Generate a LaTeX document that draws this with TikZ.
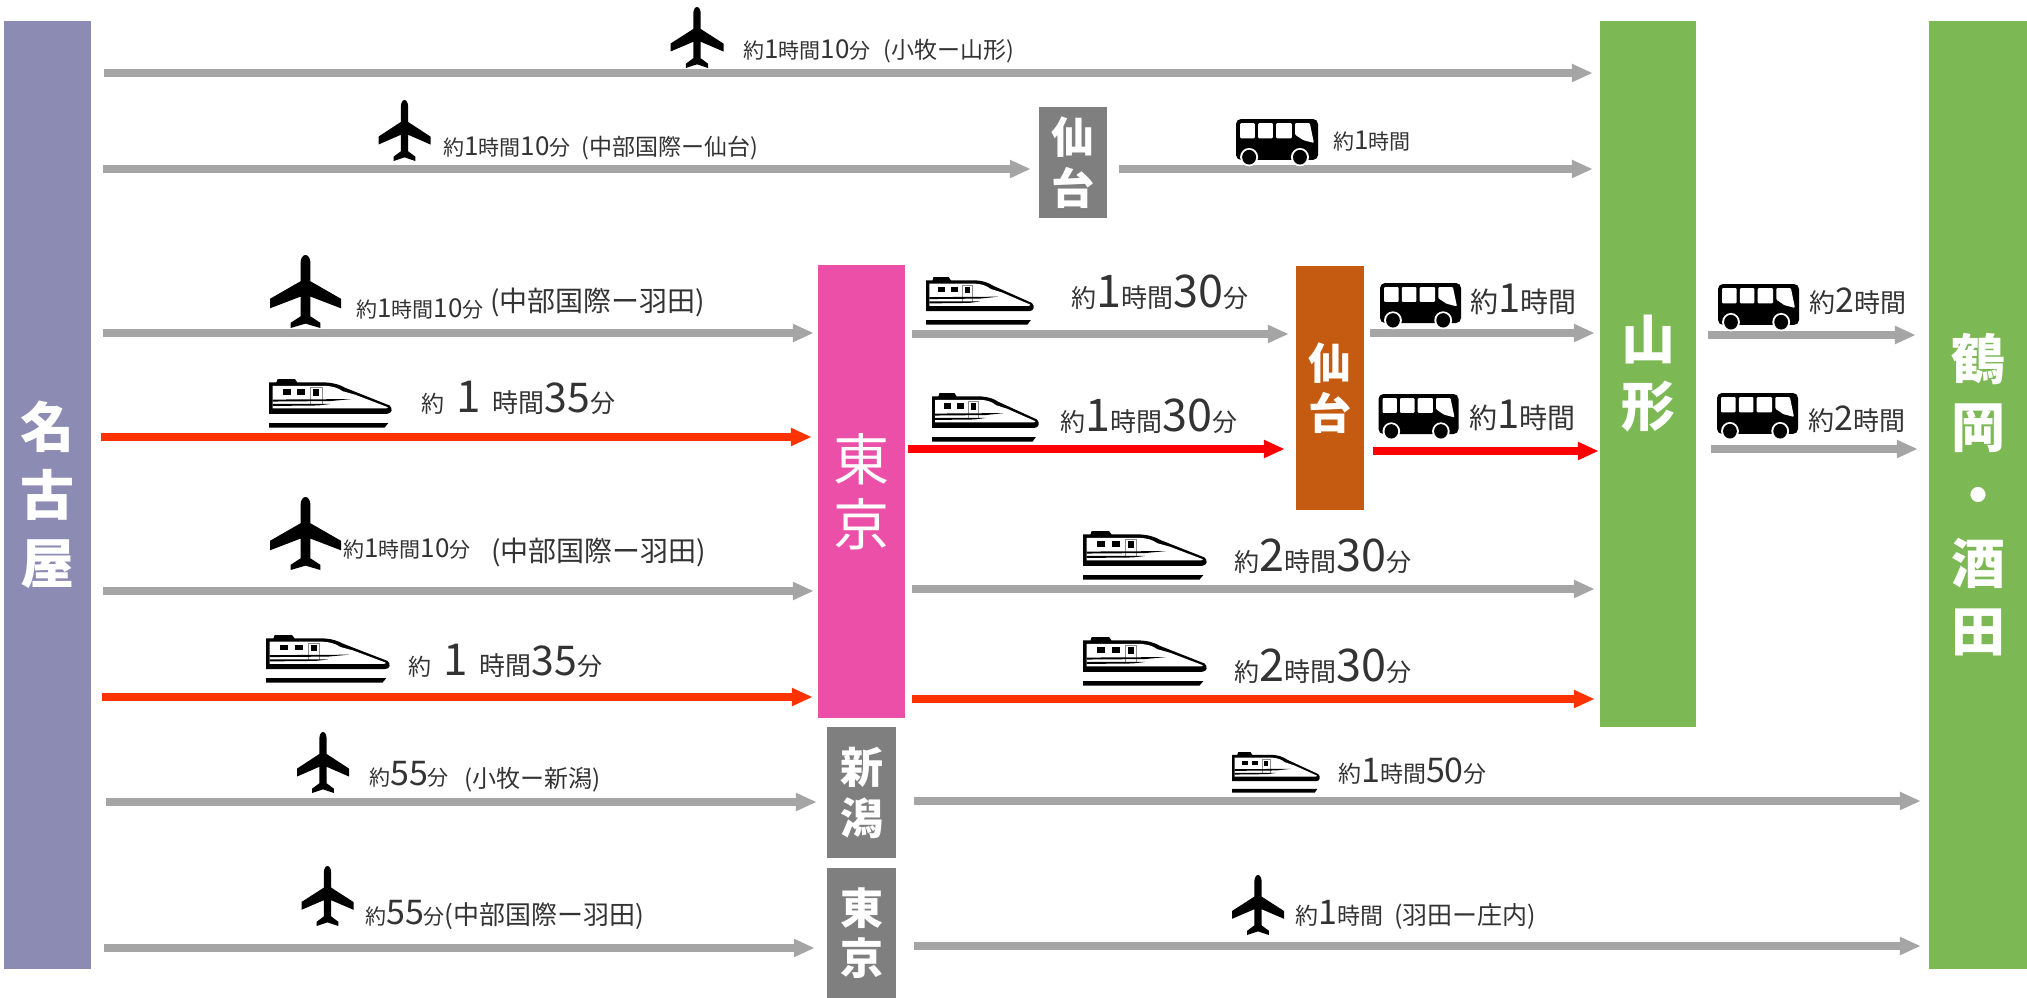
\documentclass[tikz,border=0pt]{standalone}
\usepackage{fontspec}
\usetikzlibrary{arrows.meta}
\setmainfont{Noto Sans CJK JP}

\definecolor{routegray}{HTML}{A5A5A5}
\definecolor{routeorange}{HTML}{FF3300}
\definecolor{routered}{HTML}{FF0000}
\definecolor{nagoyablue}{HTML}{8B8BB3}
\definecolor{tokyopink}{HTML}{EC4FA8}
\definecolor{stopgreen}{HTML}{7CB854}
\definecolor{sendaibrown}{HTML}{C55A11}
\definecolor{stopgray}{HTML}{7F7F7F}

% mixed sizes in one time label
\newcommand{\sz}[2]{{\fontsize{#1}{#1}\selectfont #2}}

\tikzset{
  stopbox/.style={inner sep=0pt,text=white,align=center},
  routeline/.style={line width=8.5pt,-{Triangle[length=21pt,width=17pt]}},
  grayroute/.style={routeline,draw=routegray},
  orangeroute/.style={routeline,draw=routeorange},
  redroute/.style={routeline,draw=routered},
  timelabel/.style={anchor=base west,inner sep=0pt,text=black!80},
  pics/planeicon/.style={code={
    \fill[black] (0,0) .. controls (-4,0) and (-7,5) .. (-7,11) -- (-7,36) -- (-50,60) -- (-50,73)
      -- (-7,57) -- (-7,84) -- (-21,93) -- (-21,100) -- (0,94) -- (21,100) -- (21,93) -- (7,84)
      -- (7,57) -- (50,73) -- (50,60) -- (7,36) -- (7,11) .. controls (7,5) and (4,0) .. (0,0) -- cycle;
  }},
  pics/trainicon/.style={code={
    \fill[black] (6,7) -- (7,0) -- (21,0) -- (23,7) -- (46,7) .. controls (53,8) and (58,12) .. (62,18)
      -- (98,54) .. controls (101,60) and (100,71) .. (96,71) -- (0,71) -- (0,7) -- cycle;
    \fill[white] (3,14) -- (46,14) .. controls (52,15) and (56,18) .. (60,25) -- (70,32) -- (96,57)
      .. controls (97,59) and (97,59) .. (95,60) -- (3,60) -- cycle;
    \fill[black] (11.5,21) rectangle (18,32);
    \fill[black] (23,21) rectangle (29.5,32);
    \draw[black!45,line width=.7pt] (34,53) -- (34,18) -- (43,18) -- (43,53);
    \fill[black] (36,21) rectangle (41,34);
    \fill[black] (3,42) -- (67,41) -- (50,45) -- (3,46) -- cycle;
    \fill[black] (3,51) -- (50,51) -- (40,54) -- (3,55) -- cycle;
    \fill[black] (0,90) -- (97,90) -- (94,99) -- (0,99) -- cycle;
  }},
  pics/busicon/.style={code={
    \fill[black,rounded corners=5pt] (0,0) rectangle (100,89);
    \fill[white,rounded corners=1pt] (5,9) rectangle (23,42);
    \fill[white,rounded corners=1pt] (27,9) rectangle (45,42);
    \fill[white,rounded corners=1pt] (49,9) rectangle (68,42);
    \fill[white,rounded corners=1pt] (72,9) -- (90,9) -- (95,52) -- (82,46) -- (72,34) -- cycle;
    \fill[white] (16,83) circle [x radius=11,y radius=20];
    \fill[white] (78,83) circle [x radius=11,y radius=20];
    \fill[black] (16,83) circle [x radius=8.5,y radius=16];
    \fill[black] (78,83) circle [x radius=8.5,y radius=16];
  }}
}

\begin{document}
\begin{tikzpicture}[x=1pt,y=-1pt]
\useasboundingbox (0,0) rectangle (2027,998);

% stops
\node[stopbox,fill=nagoyablue,minimum width=87pt,minimum height=948pt,font=\bfseries\fontsize{54}{68}\selectfont] (nagoya) at (47.5,495) {名\\古\\屋};
\node[stopbox,fill=tokyopink,minimum width=87pt,minimum height=453pt,font=\fontsize{56}{65}\selectfont] (tokyoA) at (861.5,491.5) {東\\京};
\node[stopbox,fill=stopgray,minimum width=68pt,minimum height=111pt,font=\bfseries\fontsize{43}{51}\selectfont] (sendaiA) at (1073,162.5) {仙\\台};
\node[stopbox,fill=sendaibrown,minimum width=68pt,minimum height=244pt,font=\bfseries\fontsize{43}{50}\selectfont] (sendaiB) at (1330,388) {仙\\台};
\node[stopbox,fill=stopgreen,minimum width=96pt,minimum height=706pt,font=\bfseries\fontsize{54}{67}\selectfont] (yamagata) at (1648,374) {山\\形};
\node[stopbox,fill=stopgreen,minimum width=98pt,minimum height=948pt,font=\bfseries\fontsize{54}{68}\selectfont] (tsuruoka) at (1978,495) {鶴\\岡\\・\\酒\\田};
\node[stopbox,fill=stopgray,minimum width=69pt,minimum height=131pt,font=\bfseries\fontsize{43}{51}\selectfont] (niigata) at (861.5,792.5) {新\\潟};
\node[stopbox,fill=stopgray,minimum width=69pt,minimum height=130pt,font=\bfseries\fontsize{43}{50}\selectfont] (tokyoB) at (861.5,933) {東\\京};

% routes from Nagoya
\draw[grayroute] ([xshift=13]nagoya.east |- 0,73) -- ([xshift=-7]yamagata.west |- 0,73);
\draw[grayroute] ([xshift=12]nagoya.east |- 0,169) -- ([xshift=-8]sendaiA.west |- 0,169);
\draw[grayroute] ([xshift=12]sendaiA.east |- 0,169) -- ([xshift=-7]yamagata.west |- 0,169);
\draw[grayroute] ([xshift=12]nagoya.east |- 0,333) -- ([xshift=-4]tokyoA.west |- 0,333);
\draw[orangeroute] ([xshift=10]nagoya.east |- 0,437) -- ([xshift=-6]tokyoA.west |- 0,437);
\draw[grayroute] ([xshift=12]nagoya.east |- 0,591) -- ([xshift=-4]tokyoA.west |- 0,591);
\draw[orangeroute] ([xshift=11]nagoya.east |- 0,697) -- ([xshift=-5]tokyoA.west |- 0,697);
\draw[grayroute] ([xshift=15]nagoya.east |- 0,802) -- ([xshift=-10]niigata.west |- 0,802);
\draw[grayroute] ([xshift=13]nagoya.east |- 0,948) -- ([xshift=-12]tokyoB.west |- 0,948);

% routes after Tokyo
\draw[grayroute] ([xshift=7]tokyoA.east |- 0,334) -- ([xshift=-7]sendaiB.west |- 0,334);
\draw[redroute] ([xshift=3]tokyoA.east |- 0,449) -- ([xshift=-11]sendaiB.west |- 0,449);
\draw[grayroute] ([xshift=7]tokyoA.east |- 0,589) -- ([xshift=-5]yamagata.west |- 0,589);
\draw[orangeroute] ([xshift=7]tokyoA.east |- 0,699) -- ([xshift=-5]yamagata.west |- 0,699);
\draw[grayroute] ([xshift=18]niigata.east |- 0,801) -- ([xshift=-8]tsuruoka.west |- 0,801);
\draw[grayroute] ([xshift=18]tokyoB.east |- 0,946) -- ([xshift=-8]tsuruoka.west |- 0,946);

% routes after Sendai and Yamagata
\draw[grayroute] ([xshift=6]sendaiB.east |- 0,333) -- ([xshift=-5]yamagata.west |- 0,333);
\draw[redroute] ([xshift=9]sendaiB.east |- 0,451) -- ([xshift=-1]yamagata.west |- 0,451);
\draw[grayroute] ([xshift=12]yamagata.east |- 0,335) -- ([xshift=-13]tsuruoka.west |- 0,335);
\draw[grayroute] ([xshift=15]yamagata.east |- 0,449) -- ([xshift=-11]tsuruoka.west |- 0,449);

% planes
\pic[xscale=.53,yscale=.61] (planeA) at (697,7) {planeicon};
\pic[xscale=.52,yscale=.61] (planeB) at (404.5,100) {planeicon};
\pic[xscale=.71,yscale=.73] (planeC) at (305.5,255) {planeicon};
\pic[xscale=.71,yscale=.73] (planeD) at (305.5,497) {planeicon};
\pic[xscale=.52,yscale=.61] (planeE) at (323,732) {planeicon};
\pic[xscale=.52,yscale=.60] (planeF) at (327.5,866) {planeicon};
\pic[xscale=.52,yscale=.60] (planeG) at (1258,875) {planeicon};

% trains
\pic[xscale=1.23,yscale=.49] (trainA) at (269,379) {trainicon};
\pic[xscale=1.08,yscale=.48] (trainB) at (926,277) {trainicon};
\pic[xscale=1.07,yscale=.49] (trainC) at (932,393) {trainicon};
\pic[xscale=1.24,yscale=.48] (trainD) at (266,635) {trainicon};
\pic[xscale=1.24,yscale=.49] (trainE) at (1083,531) {trainicon};
\pic[xscale=1.24,yscale=.49] (trainF) at (1083,637) {trainicon};
\pic[xscale=.88,yscale=.41] (trainG) at (1232,752) {trainicon};

% buses
\pic[xscale=.82,yscale=.46] (busA) at (1236,119) {busicon};
\pic[xscale=.81,yscale=.45] (busB) at (1380,283) {busicon};
\pic[xscale=.81,yscale=.46] (busC) at (1718,284) {busicon};
\pic[xscale=.80,yscale=.45] (busD) at (1378.5,394) {busicon};
\pic[xscale=.81,yscale=.46] (busE) at (1717,393) {busicon};

% times
\node[timelabel] (timeA) at (743,59) {\sz{21}{約}\sz{26}{1}\sz{21}{時間}\sz{26}{10}\sz{21}{分}\hspace{13pt}\sz{23}{(小牧ー山形)}};
\node[timelabel] (timeB) at (443,155) {\sz{21}{約}\sz{26}{1}\sz{21}{時間}\sz{26}{10}\sz{21}{分}\hspace{11pt}\sz{23}{(中部国際ー仙台)}};
\node[timelabel] (timeC) at (356,317) {\sz{21}{約}\sz{26}{1}\sz{21}{時間}\sz{26}{10}\sz{21}{分}};
\node[timelabel] (timeCa) at (490,311) {\sz{28}{(中部国際ー羽田)}};
\node[timelabel] (timeD) at (421,412) {\sz{23}{約}\hspace{12pt}\sz{44}{1}\hspace{12pt}\sz{26}{時間}\sz{41}{35}\sz{25}{分}};
\node[timelabel] (timeE) at (343,557) {\sz{21}{約}\sz{26}{1}\sz{21}{時間}\sz{26}{10}\sz{21}{分}};
\node[timelabel] (timeEa) at (491,561) {\sz{28}{(中部国際ー羽田)}};
\node[timelabel] (timeF) at (408,675) {\sz{23}{約}\hspace{12pt}\sz{44}{1}\hspace{12pt}\sz{26}{時間}\sz{41}{35}\sz{25}{分}};
\node[timelabel] (timeG) at (369,785) {\sz{21}{約}\sz{34}{55}\sz{21}{分}};
\node[timelabel] (timeGa) at (464,787) {\sz{24}{(小牧ー新潟)}};
\node[timelabel] (timeH) at (365,924) {\sz{21}{約}\sz{34}{55}\sz{21}{分}\sz{26}{(中部国際ー羽田)}};
\node[timelabel] (timeI) at (1333,149) {\sz{21}{約}\sz{26}{1}\sz{21}{時間}};
\node[timelabel] (timeJ) at (1071,307) {\sz{25}{約}\sz{45}{1}\sz{26}{時間}\sz{45}{30}\sz{25}{分}};
\node[timelabel] (timeK) at (1060,431) {\sz{25}{約}\sz{45}{1}\sz{26}{時間}\sz{45}{30}\sz{25}{分}};
\node[timelabel] (timeL) at (1470,312) {\sz{28}{約}\sz{40}{1}\sz{28}{時間}};
\node[timelabel] (timeM) at (1469,428) {\sz{28}{約}\sz{40}{1}\sz{28}{時間}};
\node[timelabel] (timeN) at (1809,312) {\sz{26}{約}\sz{34}{2}\sz{26}{時間}};
\node[timelabel] (timeO) at (1808,430) {\sz{26}{約}\sz{34}{2}\sz{26}{時間}};
\node[timelabel] (timeP) at (1234,571) {\sz{25}{約}\sz{45}{2}\sz{26}{時間}\sz{45}{30}\sz{25}{分}};
\node[timelabel] (timeQ) at (1234,681) {\sz{25}{約}\sz{45}{2}\sz{26}{時間}\sz{45}{30}\sz{25}{分}};
\node[timelabel] (timeR) at (1338,782) {\sz{23}{約}\sz{34}{1}\sz{23}{時間}\sz{34}{50}\sz{23}{分}};
\node[timelabel] (timeS) at (1295,924) {\sz{23}{約}\sz{34}{1}\sz{23}{時間}\hspace{11pt}\sz{25}{(羽田ー庄内)}};
\end{tikzpicture}
\end{document}
